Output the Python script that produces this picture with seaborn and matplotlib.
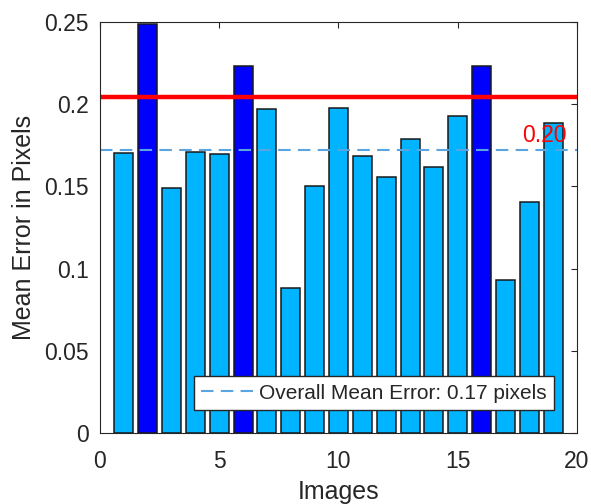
import numpy as np
import pandas as pd
import matplotlib
matplotlib.use("Agg")
import matplotlib.pyplot as plt
import seaborn as sns

# per-image mean reprojection error
images = list(range(1, 20))
errors = [0.1701, 0.2486, 0.1488, 0.1711, 0.1700, 0.2232, 0.1970, 0.0880, 0.1500, 0.1980,
          0.1685, 0.1560, 0.1786, 0.1618, 0.1930, 0.2232, 0.0931, 0.1407, 0.1886]
overall_mean = 0.172
threshold = 0.2045

df = pd.DataFrame({"image": images, "error": errors})
df["flag"] = np.where(df["error"] > threshold, "high", "normal")

sns.set_theme(style="white")
plt.rcParams["font.family"] = ["Liberation Sans", "DejaVu Sans"]
plt.rcParams["axes.edgecolor"] = "#262626"
plt.rcParams["axes.linewidth"] = 0.8

fig = plt.figure(figsize=(5.91, 5.04), dpi=100)
ax = fig.add_axes([0.1692, 0.1409, 0.8071, 0.8154])

sns.barplot(data=df, x="image", y="error", hue="flag",
            palette={"high": "#0000ff", "normal": "#00b4ff"}, saturation=1,
            native_scale=True, dodge=False, width=0.8,
            edgecolor="#1a1a1a", linewidth=1.1, legend=False, ax=ax)

ax.axhline(threshold, color="#ff0000", lw=3.2)
ax.axhline(overall_mean, color="#5aa5e0", lw=1.5, dashes=(6, 3.5),
           label=f"Overall Mean Error: {overall_mean:.2f} pixels")
ax.text(18.65, 0.181, f"{threshold:.2f}", color="#ff0000", fontsize=16.5,
        ha="center", va="center")

ax.set_xlim(0, 20)
ax.set_ylim(0, 0.25)
ax.set_xticks([0, 5, 10, 15, 20])
ax.set_yticks([0, 0.05, 0.1, 0.15, 0.2, 0.25])
ax.set_yticklabels(["0", "0.05", "0.1", "0.15", "0.2", "0.25"])
ax.tick_params(direction="in", length=4, width=0.8, color="#262626",
               top=True, right=True, labelsize=16.5, labelcolor="#262626")
ax.tick_params(axis="x", pad=12)
ax.tick_params(axis="y", pad=8)
ax.set_xlabel("Images", fontsize=18, color="#262626", labelpad=5)
ax.set_ylabel("Mean Error in Pixels", fontsize=18, color="#262626", labelpad=6)
for s in ax.spines.values():
    s.set_visible(True)

leg = ax.legend(loc="lower right", fontsize=15, frameon=True, fancybox=False,
                handlelength=2.5, borderaxespad=1.1, borderpad=0.35,
                handletextpad=0.3)
leg.get_frame().set_edgecolor("#262626")
leg.get_frame().set_linewidth(1.0)
leg.get_frame().set_alpha(1)
for t in leg.get_texts():
    t.set_color("#262626")

fig.savefig("out.png", dpi=100)
